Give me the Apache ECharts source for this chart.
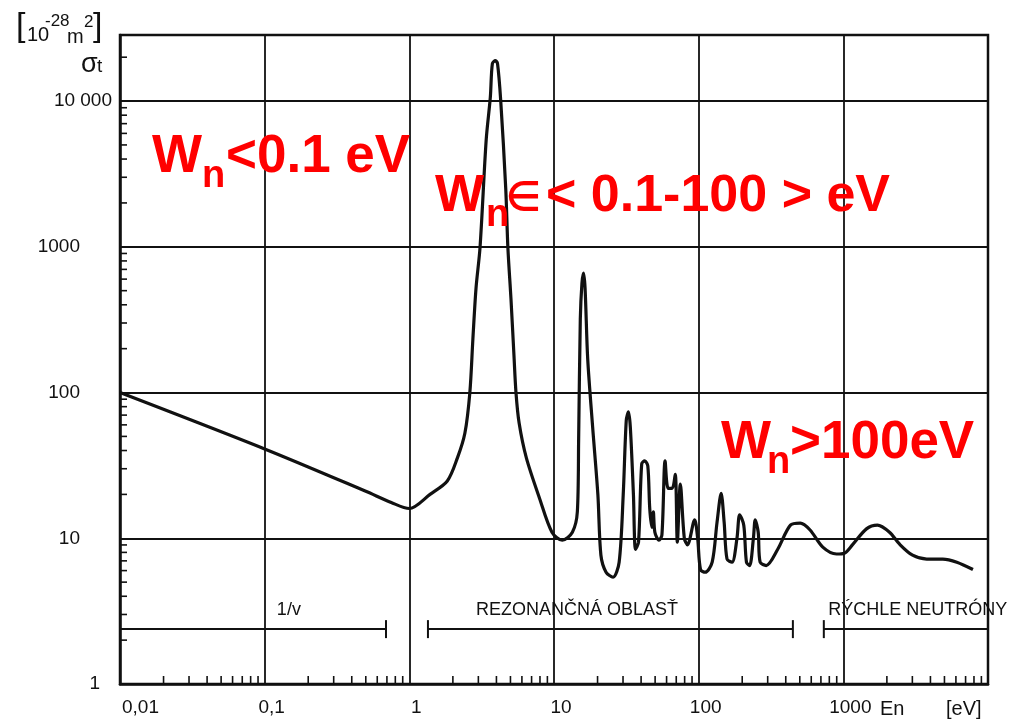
<!DOCTYPE html>
<html>
<head>
<meta charset="utf-8">
<title>Total cross section</title>
<script src="https://cdn.jsdelivr.net/npm/echarts@6.0.0/dist/echarts.min.js"></script>
</head>
<body style="margin:0;background:#fff">
<div id="main" style="width:1026px;height:720px;"></div>
<script type="text/javascript">
// neutron energy En [eV] and total cross section sigma_t [10^-28 m^2]
var energy = [0.01, 0.1, 0.5, 0.75, 1.0, 1.39, 1.83, 2.15, 2.42, 2.62, 2.75, 2.89, 3.08, 3.40, 3.63, 3.75, 3.94, 4.07, 4.28, 4.64,
    4.80, 5.04, 5.29, 5.46, 5.74, 6.44, 7.96, 9.68, 11.4, 13.4, 14.5, 14.8, 15.2, 15.6, 16.0, 16.4, 17.1, 18.5, 20.1, 21.1,
    22.9, 25.6, 28.2, 30.1, 31.6, 32.7, 33.7, 35.4, 36.6, 38.4, 40.4, 42.4, 44.5, 45.9, 47.5, 48.6, 49.8, 53.1, 55.7, 58.6,
    61.5, 65.6, 68.9, 71.2, 74.7, 79.6, 83.7, 93.8, 98.4, 103, 111, 124, 134, 143, 150, 157, 170, 184, 192, 205,
    214, 225, 239, 246, 258, 266, 293, 352, 431, 504, 589, 721, 897, 1016, 1155, 1445, 1722, 2085, 2450, 3010,
    3770, 4870, 6090, 7870];
var sigma = [100, 41, 21, 17.6, 16, 20, 24.7, 35.6, 52.5, 100, 233, 519, 985, 5450, 10640, 18070, 18930, 18070, 10150, 2500,
    985, 442, 178, 100, 61.7, 35.6, 18.7, 11, 9.7, 11, 15.2, 46.9, 321, 562, 659, 519, 170, 57.8, 20, 7.65,
    5.85, 5.4, 6.85, 20, 64.7, 73.6, 57.8, 20, 8.4, 9.4, 32.4, 34, 31.4, 16, 11.9, 15.2, 11, 9.7, 10.5, 34,
    22, 22, 27.5, 9.4, 23.5, 10, 9.0, 13.4, 10, 6.1, 5.85, 6.85, 12.9, 20.3, 12.9, 7.2, 6.85, 10, 14.5, 12.3,
    6.85, 6.5, 10, 13.4, 11, 6.85, 6.5, 8.4, 12.3, 12.7, 11.4, 8.7, 7.8, 7.9, 9.0, 11.6, 12.3, 11, 9.1, 7.65,
    7.2, 7.2, 6.85, 6.1];

var xTickValues = [0.01, 0.1, 1, 10, 100, 1000, 10000];
var xTickLabels = ['0,01', '0,1', '1', '10', '100', '1000', ''];
var yTickValues = [1, 10, 100, 1000, 10000];
var yTickLabels = ['1', '10', '100', '1000', '10 000'];
var minorFactors = [2, 3, 4, 5, 6, 7, 8, 9];

// energy regions drawn as brackets above the x axis
var rangeNames = ['1/v', 'REZONANČNÁ OBLASŤ', 'RÝCHLE NEUTRÓNY'];
var rangeStart = [0.01, 1.345, 733];
var rangeEnd = [0.69, 448, 10000];
var rangeLabelAt = [0.147, 14.4, 3270];
var rangeLevel = 2.38;
var rangeStartCap = [false, true, true];
var rangeEndCap = [true, true, false];

var xMin = 0.01, xMax = 10000, yMin = 1, yMax = 28400;

function tickIndex(values, v) {
    for (var i = 0; i < values.length; i++) {
        if (Math.abs(Math.log10(v) - Math.log10(values[i])) < 1e-6) return i;
    }
    return -1;
}

var xMinor = [], yMinor = [];
xTickValues.slice(0, -1).forEach(function (d) {
    minorFactors.forEach(function (f) { xMinor.push([d * f, yMin]); });
});
yTickValues.forEach(function (d) {
    minorFactors.forEach(function (f) { if (d * f < yMax) yMinor.push([xMin, d * f]); });
});

var myChart = echarts.init(document.getElementById('main'));
var black = '#111';
var red = '#ff0000';
var txtFont = 'Liberation Sans, Arial, sans-serif';

function redText(x, y, size, text) {
    return {
        type: 'text', x: x, y: y, z: 50,
        style: { text: text, fill: red, font: 'bold ' + size + 'px ' + txtFont, verticalAlign: 'middle' }
    };
}
function blackText(x, y, size, text, align) {
    return {
        type: 'text', x: x, y: y, z: 50,
        style: { text: text, fill: black, font: size + 'px ' + txtFont, verticalAlign: 'middle', align: align || 'left' }
    };
}

option = {
    animation: false,
    backgroundColor: '#fff',
    grid: {
        left: 120, right: 38, top: 35, bottom: 36,
        show: true, borderColor: black, borderWidth: 2.5
    },
    xAxis: {
        type: 'log', logBase: 10, min: xMin, max: xMax,
        axisLine: { show: true, lineStyle: { color: black, width: 2.5 } },
        axisTick: { show: false },
        splitLine: { show: true, lineStyle: { color: black, width: 1.8 } },
        axisLabel: {
            color: black, fontSize: 19, fontFamily: txtFont, margin: 14,
            alignMinLabel: 'left',
            formatter: function (v) {
                var i = tickIndex(xTickValues, v);
                if (i < 0) return '';
                return i === 0 ? '{f|' + xTickLabels[i] + '}' : '{s|' + xTickLabels[i] + '}';
            },
            rich: {
                f: { fontSize: 19, fontFamily: txtFont, color: black, padding: [0, 0, 0, 2] },
                s: { fontSize: 19, fontFamily: txtFont, color: black, padding: [0, 0, 0, 14] }
            }
        }
    },
    yAxis: {
        type: 'log', logBase: 10, min: yMin, max: yMax,
        axisLine: { show: true, lineStyle: { color: black, width: 2.5 } },
        axisTick: { show: false },
        splitLine: { show: true, lineStyle: { color: black, width: 1.8 } },
        axisLabel: {
            color: black, fontSize: 19, fontFamily: txtFont, margin: 8,
            formatter: function (v) {
                var i = tickIndex(yTickValues, v);
                if (i < 0) return '';
                if (i === yTickValues.length - 1) return '{w|' + yTickLabels[i] + '}';
                if (i === 0) return '{o|' + yTickLabels[i] + '}';
                return '{n|' + yTickLabels[i] + '}';
            },
            rich: {
                w: { fontSize: 19, fontFamily: txtFont, color: black },
                o: { fontSize: 19, fontFamily: txtFont, color: black, padding: [0, 12, 0, 0] },
                n: { fontSize: 19, fontFamily: txtFont, color: black, padding: [0, 32, 0, 0] }
            }
        }
    },
    graphic: [
        // unit label
        blackText(16, 27, 34, '['),
        blackText(27, 35, 20, '10'),
        blackText(45, 21, 17, '-28'),
        blackText(67, 37, 20, 'm'),
        blackText(84, 22, 17, '2'),
        blackText(93, 27, 34, ']'),
        blackText(81, 65, 27, 'σ'),
        blackText(97, 67, 19, 't'),
        // x axis name
        blackText(880, 709, 20, 'En'),
        blackText(946, 709, 20, '[eV]'),
        // annotations
        redText(152, 157, 53, 'W'),
        redText(202, 177, 38, 'n'),
        redText(226, 157, 53, '<0.1 eV'),
        redText(435, 197, 52, 'W'),
        redText(486, 216, 38, 'n'),
        redText(506, 199, 40, '∈'),
        redText(546, 197, 52, '< 0.1-100 > eV'),
        redText(721, 443, 53, 'W'),
        redText(767, 463, 38, 'n'),
        redText(790, 443, 53, '>100eV')
    ],
    series: [{
        type: 'line',
        data: energy.map(function (e, i) { return [e, sigma[i]]; }),
        showSymbol: false,
        smooth: 0.3,
        lineStyle: { color: black, width: 3.2 },
        z: 10
    }, {
        type: 'custom',
        silent: true,
        clip: false,
        data: xMinor,
        renderItem: function (params, api) {
            var p = api.coord([api.value(0), api.value(1)]);
            return { type: 'line', shape: { x1: p[0], y1: p[1], x2: p[0], y2: p[1] - 8 },
                style: { stroke: black, lineWidth: 1.6 } };
        }
    }, {
        type: 'custom',
        silent: true,
        clip: false,
        data: yMinor,
        renderItem: function (params, api) {
            var p = api.coord([api.value(0), api.value(1)]);
            return { type: 'line', shape: { x1: p[0], y1: p[1], x2: p[0] + 7, y2: p[1] },
                style: { stroke: black, lineWidth: 1.6 } };
        }
    }, {
        type: 'custom',
        silent: true,
        clip: false,
        encode: { x: [0, 1, 2], y: 3 },
        data: rangeNames.map(function (n, i) {
            return [rangeStart[i], rangeEnd[i], rangeLabelAt[i], rangeLevel];
        }),
        renderItem: function (params, api) {
            var i = params.dataIndex;
            var p0 = api.coord([api.value(0), api.value(3)]);
            var p1 = api.coord([api.value(1), api.value(3)]);
            var pl = api.coord([api.value(2), api.value(3)]);
            var st = { stroke: black, lineWidth: 2 };
            var kids = [{ type: 'line', shape: { x1: p0[0], y1: p0[1], x2: p1[0], y2: p1[1] }, style: st }];
            if (rangeStartCap[i]) kids.push({ type: 'line', shape: { x1: p0[0], y1: p0[1] - 9, x2: p0[0], y2: p0[1] + 9 }, style: st });
            if (rangeEndCap[i]) kids.push({ type: 'line', shape: { x1: p1[0], y1: p1[1] - 9, x2: p1[0], y2: p1[1] + 9 }, style: st });
            kids.push({ type: 'text', x: pl[0], y: pl[1] - 19,
                style: { text: rangeNames[i], fill: black, font: '18px ' + txtFont, align: 'center', verticalAlign: 'middle' } });
            return { type: 'group', children: kids };
        }
    }]
};

myChart.setOption(option);
</script>
</body>
</html>
